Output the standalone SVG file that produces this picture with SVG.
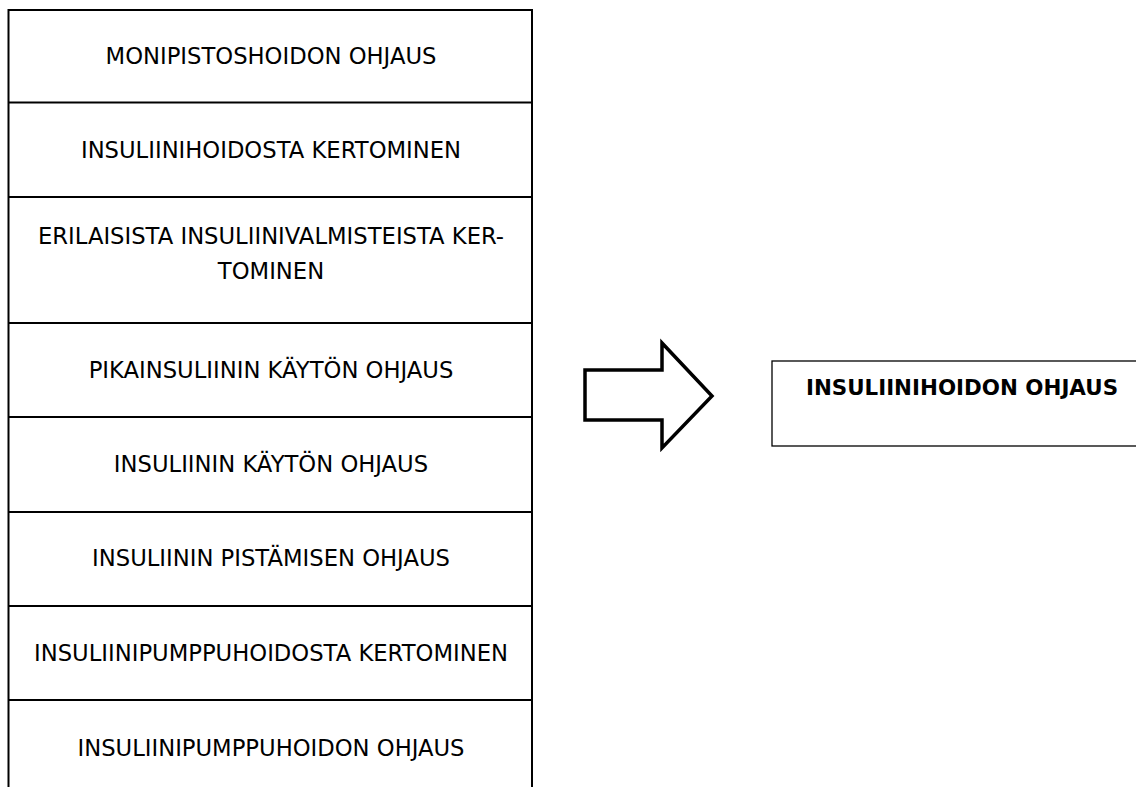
<svg xmlns="http://www.w3.org/2000/svg" width="1136" height="787" viewBox="0 0 1136 787">
  <style>
    .rule { stroke: #000000; stroke-width: 2; fill: none; }
    .lbl { font-family: "DejaVu Sans", sans-serif; font-size: 22.7px; fill: #000000; text-anchor: middle; }
    .lbl-b { font-family: "DejaVu Sans", sans-serif; font-size: 21.4px; font-weight: bold; fill: #000000; text-anchor: middle; }
    .result { fill: #ffffff; stroke: #000000; stroke-width: 1.3; }
    .arrow { fill: #ffffff; stroke: #000000; stroke-width: 3.5; stroke-linejoin: miter; }
  </style>
  <rect width="1136" height="787" fill="#ffffff"/>

  <!-- list column: outer frame, open at the bottom -->
  <g id="column-frame">
    <path class="rule" d="M8.5,787 V10 H532 V787"/>
  </g>

  <g id="item-1">
    <text class="lbl" x="271" y="64">MONIPISTOSHOIDON OHJAUS</text>
    <line class="rule" x1="8.5" y1="102.5" x2="532" y2="102.5"/>
  </g>
  <g id="item-2">
    <text class="lbl" x="271" y="158">INSULIINIHOIDOSTA KERTOMINEN</text>
    <line class="rule" x1="8.5" y1="197" x2="532" y2="197"/>
  </g>
  <g id="item-3">
    <text class="lbl" x="271" y="244">ERILAISISTA INSULIINIVALMISTEISTA KER-</text>
    <text class="lbl" x="271" y="279">TOMINEN</text>
    <line class="rule" x1="8.5" y1="323" x2="532" y2="323"/>
  </g>
  <g id="item-4">
    <text class="lbl" x="271" y="378">PIKAINSULIININ KÄYTÖN OHJAUS</text>
    <line class="rule" x1="8.5" y1="417" x2="532" y2="417"/>
  </g>
  <g id="item-5">
    <text class="lbl" x="271" y="472">INSULIININ KÄYTÖN OHJAUS</text>
    <line class="rule" x1="8.5" y1="512" x2="532" y2="512"/>
  </g>
  <g id="item-6">
    <text class="lbl" x="271" y="566">INSULIININ PISTÄMISEN OHJAUS</text>
    <line class="rule" x1="8.5" y1="606" x2="532" y2="606"/>
  </g>
  <g id="item-7">
    <text class="lbl" x="271" y="661">INSULIINIPUMPPUHOIDOSTA KERTOMINEN</text>
    <line class="rule" x1="8.5" y1="700" x2="532" y2="700"/>
  </g>
  <g id="item-8">
    <text class="lbl" x="271" y="756">INSULIINIPUMPPUHOIDON OHJAUS</text>
  </g>

  <!-- block arrow linking the list to the summary box -->
  <g id="connectors">
    <polygon class="arrow" points="585,370 662,370 662,343 712,396 662,448 662,420 585,420"/>
  </g>

  <g id="summary">
    <rect class="result" x="772" y="361" width="380" height="85"/>
    <text class="lbl-b" x="962" y="395">INSULIINIHOIDON OHJAUS</text>
  </g>
</svg>
